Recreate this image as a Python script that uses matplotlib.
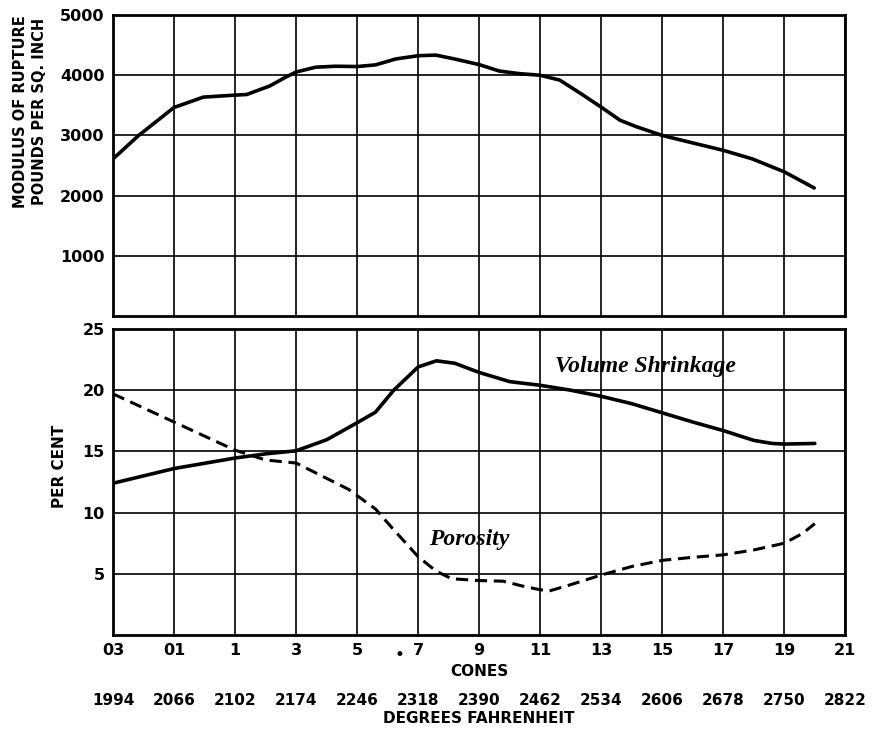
import matplotlib.pyplot as plt
import numpy as np

# DATA (x in grid steps: 0 = cone 03, 12 = cone 21)
cone_labels = ["03", "01", "1", "3", "5", "7", "9", "11", "13", "15", "17", "19", "21"]
fahrenheit_labels = ["1994", "2066", "2102", "2174", "2246", "2318", "2390",
                     "2462", "2534", "2606", "2678", "2750", "2822"]

rupture_x = [0, 0.42, 1, 1.48, 2, 2.19, 2.57, 2.84, 3, 3.32, 3.65, 4, 4.3,
             4.63, 5, 5.29, 5.6, 6, 6.33, 6.66, 7, 7.32, 7.65, 8, 8.31, 8.58,
             9, 9.39, 10, 10.48, 11, 11.49]
rupture_y = [2610, 3000, 3465, 3637, 3670, 3680, 3823, 3974, 4054, 4134, 4150,
             4145, 4172, 4270, 4325, 4335, 4270, 4177, 4070, 4027, 4000, 3920,
             3706, 3470, 3252, 3144, 3000, 2903, 2753, 2609, 2395, 2128]

shrink_x = [0, 1, 2, 2.5, 3, 3.5, 3.95, 4.3, 4.6, 5, 5.3, 5.6, 6, 6.5, 7,
            7.5, 8, 8.5, 9, 9.5, 10, 10.5, 10.8, 11, 11.5]
shrink_y = [12.4, 13.6, 14.46, 14.8, 15.05, 15.95, 17.2, 18.2, 20.0, 21.9,
            22.4, 22.2, 21.45, 20.7, 20.4, 20.0, 19.5, 18.9, 18.15, 17.4, 16.7,
            15.9, 15.65, 15.6, 15.65]

poro_x = [0, 1, 2, 2.5, 3, 3.5, 3.86, 4.3, 4.6, 5, 5.3, 5.55, 6, 6.39, 6.71,
          7, 7.15, 7.47, 8, 8.5, 9, 9.5, 10, 10.5, 11, 11.3, 11.5]
poro_y = [19.7, 17.4, 15.1, 14.3, 14.05, 12.8, 11.9, 10.3, 8.6, 6.4, 5.2,
          4.6, 4.45, 4.4, 4.0, 3.7, 3.6, 4.07, 4.9, 5.6, 6.1, 6.35, 6.55,
          6.95, 7.5, 8.3, 9.1]

rupture_ticks = [1000, 2000, 3000, 4000, 5000]
percent_ticks = [5, 10, 15, 20, 25]

LABEL_FONT = dict(family="DejaVu Sans", weight="bold")
NOTE_FONT = dict(family="Liberation Serif", style="italic", weight="bold")


def style_axes(ax, yticks, ymax):
    ax.set_xlim(0, 12)
    ax.set_ylim(0, ymax)
    ax.set_xticks(np.arange(len(cone_labels)))
    ax.set_yticks(yticks)
    ax.set_yticklabels([str(t) for t in yticks], fontsize=11.5, **LABEL_FONT)
    ax.grid(True, color="black", lw=1.2)
    ax.set_axisbelow(True)
    ax.tick_params(length=0, pad=6)
    for s in ax.spines.values():
        s.set_linewidth(2)


fig = plt.figure(figsize=(8.76, 7.35), dpi=100)
ax_top = fig.add_axes([0.129, 0.570, 0.836, 0.4095])
ax_bot = fig.add_axes([0.129, 0.136, 0.836, 0.4164])

# top panel: modulus of rupture
style_axes(ax_top, rupture_ticks, 5000)
ax_top.set_xticklabels([])
ax_top.plot(rupture_x, rupture_y, color="black", lw=2.6,
            solid_capstyle="round", solid_joinstyle="round")
ax_top.text(-0.113, 0.68, "MODULUS OF RUPTURE\nPOUNDS PER SQ. INCH", rotation=90,
            transform=ax_top.transAxes, ha="center", va="center", fontsize=10.5,
            linespacing=1.3, **LABEL_FONT)

# bottom panel: shrinkage and porosity
style_axes(ax_bot, percent_ticks, 25)
ax_bot.set_xticklabels(cone_labels, fontsize=11.5, **LABEL_FONT)
ax_bot.plot(shrink_x, shrink_y, color="black", lw=2.6,
            solid_capstyle="round", solid_joinstyle="round")
ax_bot.plot(poro_x, poro_y, color="black", lw=2.2, dashes=(4, 2.2))
ax_bot.text(-0.073, 0.55, "PER CENT", rotation=90, transform=ax_bot.transAxes,
            ha="center", va="center", fontsize=11, **LABEL_FONT)
ax_bot.text(7.25, 21.9, "Volume Shrinkage", fontsize=17, va="center", **NOTE_FONT)
ax_bot.text(5.18, 7.8, "Porosity", fontsize=17, va="center", **NOTE_FONT)

ax_bot.text(4.7, -0.065, "\u2022", transform=ax_bot.get_xaxis_transform(),
            ha="center", va="center", fontsize=12)
ax_bot.text(6, -0.12, "CONES", transform=ax_bot.get_xaxis_transform(),
            ha="center", va="center", fontsize=11, **LABEL_FONT)
for i, lab in enumerate(fahrenheit_labels):
    ax_bot.text(i, -0.215, lab, transform=ax_bot.get_xaxis_transform(),
                ha="center", va="center", fontsize=11, **LABEL_FONT)
ax_bot.text(6, -0.272, "DEGREES FAHRENHEIT", transform=ax_bot.get_xaxis_transform(),
            ha="center", va="center", fontsize=11, **LABEL_FONT)

fig.savefig("out.png", dpi=100)
